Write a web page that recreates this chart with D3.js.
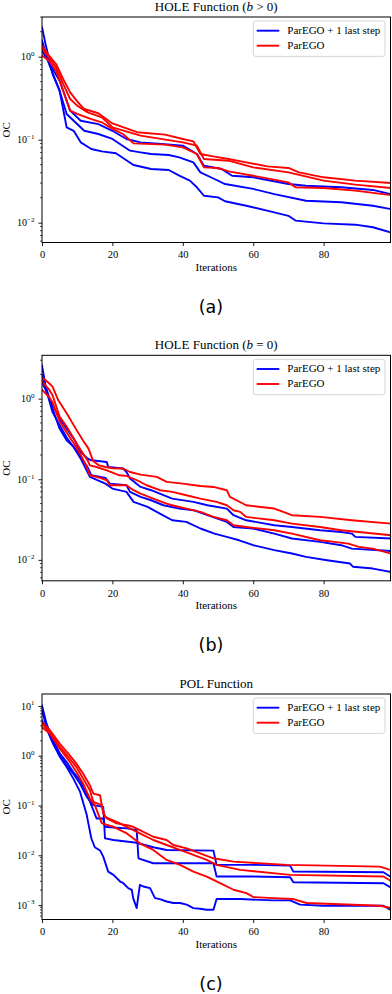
<!DOCTYPE html>
<html><head><meta charset="utf-8">
<script src="https://cdn.jsdelivr.net/npm/d3@7"></script>
<style>
html,body{margin:0;padding:0;background:#fff;}
svg{display:block;}
</style></head><body>
<svg id="chart" width="392" height="994"></svg>
<script>
// ---------- data (iteration, OC value) ----------
const aBlue1 = [[0,2.26],[1,1.42],[3,0.618],[5,0.389],[7,0.141],[9,0.128],[11,0.0929],[14,0.0772],[17,0.0723],[21,0.0686],[26,0.0496],[31,0.0443],[36,0.0431],[39,0.0368],[42,0.0321],[44,0.0267],[46,0.0211],[50,0.0202],[52,0.0181],[58,0.0160],[66,0.0133],[70,0.0121],[72,0.0106],[80,0.0098],[89,0.00946],[94,0.0088],[99,0.00765]];
const aBlue2 = [[0,1.56],[2,0.816],[5,0.389],[7,0.204],[9,0.169],[12,0.128],[16,0.117],[20,0.102],[25,0.0737],[28,0.0704],[31,0.0672],[36,0.0653],[39,0.0612],[43,0.0533],[45,0.0404],[49,0.0336],[52,0.0292],[60,0.0255],[66,0.0221],[75,0.0184],[85,0.0176],[94,0.016],[99,0.0146]];
const aBlue3 = [[0,1.18],[5,0.514],[8,0.224],[11,0.169],[16,0.154],[20,0.128],[24,0.102],[28,0.0929],[34,0.0887],[40,0.0847],[44,0.0672],[46,0.0486],[51,0.0443],[54,0.0368],[60,0.0352],[70,0.0292],[75,0.0279],[85,0.0267],[94,0.0248],[99,0.0221]];
const aRed1 = [[0,1.36],[2,1.03],[4,0.816],[6,0.538],[8,0.372],[10,0.29],[12,0.234],[16,0.208],[20,0.157],[27,0.123],[35,0.115],[40,0.102],[43,0.0955],[45,0.0672],[49,0.0624],[53,0.0585],[58,0.0533],[64,0.0477],[70,0.0456],[73,0.0404],[80,0.0352],[89,0.0321],[99,0.0301]];
const aRed2 = [[0,1.24],[2,0.982],[4,0.744],[6,0.469],[8,0.309],[10,0.257],[13,0.213],[17,0.186],[20,0.141],[28,0.112],[40,0.0929],[44,0.0847],[46,0.0585],[53,0.0558],[60,0.0464],[70,0.0404],[80,0.0321],[89,0.0287],[99,0.0262]];
const aRed3 = [[0,1.03],[2,0.895],[4,0.678],[6,0.389],[8,0.224],[10,0.204],[14,0.177],[17,0.162],[20,0.135],[23,0.117],[26,0.0903],[35,0.0871],[40,0.0809],[44,0.0672],[46,0.0464],[50,0.0456],[53,0.0415],[60,0.0368],[70,0.0306],[72,0.0267],[80,0.0262],[89,0.0243],[99,0.0215]];

const bBlue1 = [[0,2.59],[1,1.46],[3,0.75],[5,0.425],[7,0.304],[9,0.252],[11,0.18],[13.6,0.107],[18,0.0883],[20,0.0766],[24,0.0697],[26,0.0524],[30,0.0454],[33.5,0.0375],[37,0.031],[41,0.0296],[45,0.0245],[49,0.0212],[52.5,0.0193],[56,0.0175],[60,0.0152],[66,0.0132],[71,0.012],[75,0.0109],[81,0.0099],[87.5,0.009],[88.4,0.0082],[94,0.0078],[99,0.0071]];
const bBlue2 = [[0,1.95],[3,0.68],[5,0.47],[7,0.33],[9,0.25],[11,0.19],[13,0.14],[14,0.112],[18,0.104],[19.3,0.0883],[24,0.0843],[25,0.0697],[28,0.0604],[31,0.0549],[34.5,0.0476],[39,0.0433],[43,0.0413],[47,0.0358],[52.5,0.0296],[54.4,0.0256],[60,0.0245],[66,0.0212],[71,0.0184],[79,0.0167],[85,0.0152],[88,0.0138],[99,0.0129]];
const bBlue3 = [[0,1.61],[3,0.83],[5,0.565],[7,0.425],[9,0.319],[11,0.218],[13,0.18],[14,0.172],[18.4,0.164],[18.8,0.142],[23,0.136],[24,0.123],[25,0.102],[28,0.0803],[31,0.0731],[34.5,0.0634],[37,0.0576],[43,0.0524],[47,0.0476],[52.5,0.0433],[54.4,0.0358],[58,0.031],[66,0.0269],[71,0.0256],[79,0.0233],[85,0.0222],[88,0.0212],[89,0.0193],[99,0.0184]];
const bRed1 = [[0,1.8],[1,1.7],[2,1.55],[3,1.41],[4.6,0.96],[7,0.66],[9.8,0.41],[11.7,0.3],[13.2,0.24],[14.5,0.17],[16,0.15],[18,0.142],[20,0.137],[23,0.136],[25,0.123],[28,0.114],[32.6,0.107],[35.4,0.0927],[40,0.0883],[45,0.0826],[48.7,0.0803],[52.5,0.0731],[53.4,0.0604],[58,0.0476],[66,0.0433],[71,0.0358],[79,0.0341],[88,0.031],[99,0.0282]];
const bRed2 = [[0,1.62],[2,1.3],[3,1.1],[5,0.6],[7,0.45],[9,0.32],[11,0.23],[13,0.17],[13.6,0.149],[15.5,0.142],[18.4,0.129],[22,0.112],[24,0.11],[27,0.0972],[29.7,0.0843],[33.5,0.0731],[37,0.0697],[41,0.0634],[45,0.0576],[49.6,0.0524],[52.5,0.0476],[54.4,0.0413],[56.3,0.0394],[58,0.0341],[66,0.031],[71,0.0282],[79,0.0256],[85,0.0233],[90,0.0222],[99,0.0202]];
const bRed3 = [[0,1.28],[2,1.05],[3,0.9],[5,0.52],[7,0.38],[9,0.28],[11,0.2],[12.5,0.15],[13.6,0.112],[16.5,0.104],[18.4,0.0972],[19.3,0.0843],[24,0.0843],[26,0.0731],[28,0.0664],[31.6,0.0576],[35.4,0.0499],[37,0.0476],[41,0.0433],[45,0.0394],[48.7,0.0341],[52.5,0.031],[54.4,0.0269],[58,0.0256],[66,0.0233],[71,0.0212],[79,0.0175],[83,0.0167],[87,0.0159],[90,0.0145],[94,0.0138],[99,0.012]];

const cBlue1 = [[0,8.07],[1.3,3.74],[3.2,1.74],[5.1,0.94],[7,0.593],[8.9,0.347],[10.8,0.19],[12.7,0.065],[14,0.022],[15,0.0145],[16.5,0.0125],[17.4,0.0094],[18.8,0.0047],[20.3,0.00404],[22.2,0.00297],[23.1,0.00275],[24.5,0.00219],[25.5,0.00203],[25.9,0.00138],[26.9,0.00087],[27.8,0.00255],[28.8,0.00236],[30.7,0.00219],[32.1,0.00138],[33.5,0.00132],[35.4,0.00118],[37.3,0.0011],[39.2,0.0011],[41.1,0.00102],[43,0.00087],[44.9,0.000845],[46.8,0.000807],[48.7,0.000807],[49.6,0.00132],[56.3,0.00132],[65.7,0.00124],[70.5,0.00124],[73.3,0.00102],[79.9,0.00097],[97,0.00097],[98.9,0.000807]];
const cBlue2 = [[0,10.2],[1.3,4.37],[3.2,2.03],[5.1,1.1],[7,0.747],[8.9,0.471],[10.8,0.321],[12.7,0.174],[14.6,0.08],[15.5,0.055],[17.4,0.055],[17.9,0.0374],[20.3,0.0363],[24.1,0.0347],[26.9,0.0321],[27.4,0.0087],[31.6,0.00692],[48.7,0.00692],[49.6,0.00374],[60,0.00374],[70.5,0.00363],[71.4,0.00288],[97,0.00275],[98.9,0.00229]];
const cBlue3 = [[0,5.09],[1.3,3.47],[3.2,1.74],[5.1,1.016],[7,0.641],[8.9,0.436],[10.8,0.275],[12.7,0.149],[14.6,0.1016],[17.4,0.094],[17.9,0.0219],[20.3,0.0203],[26.9,0.0179],[31.6,0.0145],[35.4,0.0128],[48.7,0.0124],[49.6,0.00641],[60,0.00641],[70.5,0.00621],[71.4,0.00471],[97,0.00457],[98.9,0.00374]];
const cRed1 = [[0,4.71],[2.3,3.21],[5.1,1.74],[7.9,1.016],[9.8,0.692],[11.7,0.436],[13.6,0.255],[14.6,0.174],[16.5,0.161],[17.4,0.0692],[18.4,0.055],[21.2,0.0437],[24.1,0.0404],[25.9,0.0374],[27.8,0.0321],[31.6,0.0236],[35.4,0.0203],[37.3,0.0161],[41.1,0.0138],[48.7,0.0087],[54.4,0.00747],[69.5,0.00641],[96,0.00593],[98.9,0.00509]];
const cRed2 = [[0,4.37],[2.3,2.97],[5.1,1.49],[7.9,0.871],[9.8,0.593],[11.7,0.347],[13.6,0.203],[14.6,0.118],[17,0.1016],[17.9,0.0593],[21.2,0.0471],[24.1,0.0374],[27.8,0.0275],[31.6,0.0203],[35.4,0.0161],[39.2,0.0128],[43,0.0102],[46.8,0.00807],[49.6,0.00641],[56.3,0.00509],[70.5,0.00404],[97,0.00374],[98.9,0.00311]];
const cRed3 = [[0,3.74],[2.3,2.75],[5.1,1.38],[7.9,0.747],[9.8,0.471],[11.7,0.275],[13.6,0.138],[15,0.1016],[17,0.0437],[20.3,0.0374],[24.1,0.0275],[27.8,0.0174],[31.6,0.0128],[35.4,0.00807],[39.2,0.00641],[43,0.00471],[46.8,0.00374],[50.6,0.00275],[54.4,0.00203],[58.1,0.00174],[60,0.00145],[65.7,0.00138],[71.4,0.00132],[75.2,0.0011],[96,0.00097],[98.9,0.00088]];

const xTickValues = [0, 20, 40, 60, 80];
const yTicksA = [1, 0.1, 0.01];
const yTicksB = [1, 0.1, 0.01];
const yTicksC = [10, 1, 0.1, 0.01, 0.001];
const yDomainA = [0.00577, 3.006];
const yDomainB = [0.0055, 3.45];
const yDomainC = [0.000513, 17.4];
const titleNames = ["HOLE Function", "HOLE Function", "POL Function"];
const titleMath = [["b", " > 0"], ["b", " = 0"], null];
const legendLabels = ["ParEGO + 1 last step", "ParEGO"];
const seriesColors = ["#0000ff", "#ff0000"];
const panelLetters = ["(a)", "(b)", "(c)"];
const xLabel = "Iterations";
const yLabel = "OC";

const panels = [
  {yDomain: yDomainA, yTicks: yTicksA, blue: [aBlue1, aBlue2, aBlue3], red: [aRed1, aRed2, aRed3]},
  {yDomain: yDomainB, yTicks: yTicksB, blue: [bBlue1, bBlue2, bBlue3], red: [bRed1, bRed2, bRed3]},
  {yDomain: yDomainC, yTicks: yTicksC, blue: [cBlue1, cBlue2, cBlue3], red: [cRed1, cRed2, cRed3]}
];

// ---------- layout ----------
const SERIF = "'Liberation Serif','DejaVu Serif',serif";
const SANS = "'DejaVu Sans','Open Sans',sans-serif";
const left = 42, right = 390.5, plotH = 225.5;
const tops = [17, 355.3, 694];

const svg = d3.select("#chart");
const defs = svg.append("defs");

panels.forEach((p, i) => {
  const g = svg.append("g").attr("transform", `translate(0,${tops[i]})`);
  const x = d3.scaleLinear().domain([0, 99]).range([left, right]);
  const y = d3.scaleLog().domain(p.yDomain).range([plotH, 0]);

  defs.append("clipPath").attr("id", "clip" + i)
    .append("rect").attr("x", left).attr("y", 0).attr("width", right - left).attr("height", plotH);

  const line = d3.line().x(d => x(d[0])).y(d => y(d[1]));
  const lg = g.append("g").attr("clip-path", `url(#clip${i})`);
  [[p.blue, seriesColors[0]], [p.red, seriesColors[1]]].forEach(([list, col]) => {
    lg.selectAll(null).data(list).enter().append("path")
      .attr("d", line).attr("fill", "none").attr("stroke", col)
      .attr("stroke-width", 1.9).attr("stroke-linejoin", "round").attr("stroke-linecap", "square");
  });

  // frame
  g.append("rect").attr("x", left).attr("y", 0).attr("width", right - left).attr("height", plotH)
    .attr("fill", "none").attr("stroke", "#000").attr("stroke-width", 1);

  // x axis
  const gx = g.append("g").attr("transform", `translate(0,${plotH})`)
    .call(d3.axisBottom(x).tickValues(xTickValues).tickSize(3.5).tickPadding(5).tickFormat(d3.format("d")));
  gx.select(".domain").remove();
  gx.selectAll("line").attr("stroke", "#000").attr("stroke-width", 0.9);
  gx.selectAll("text").attr("font-family", SERIF).attr("font-size", 10.5).attr("fill", "#000");

  // y axis: major + minor ticks
  const gy = g.append("g").attr("transform", `translate(${left},0)`)
    .call(d3.axisLeft(y).tickValues(p.yTicks).tickSize(3.5).tickFormat(""));
  gy.select(".domain").remove();
  gy.selectAll("line").attr("stroke", "#000").attr("stroke-width", 0.9);
  const minors = y.ticks().filter(v => Math.abs(Math.log10(v) - Math.round(Math.log10(v))) > 1e-6);
  gy.selectAll(".minor").data(minors).enter().append("line").attr("class", "minor")
    .attr("x1", -2).attr("x2", 0).attr("y1", d => y(d)).attr("y2", d => y(d))
    .attr("stroke", "#000").attr("stroke-width", 0.7);
  // y tick labels 10^k
  p.yTicks.forEach(v => {
    const e = Math.round(Math.log10(v));
    const t = g.append("text").attr("x", left - 7.5).attr("y", y(v) + 3.6)
      .attr("text-anchor", "end").attr("font-family", SERIF).attr("font-size", 10).attr("fill", "#000");
    t.append("tspan").text("10");
    t.append("tspan").attr("dy", -4.3).attr("font-size", 7).text(e < 0 ? "\u2212" + (-e) : String(e));
  });

  // title
  const tt = g.append("text").attr("x", (left + right) / 2).attr("y", -6)
    .attr("text-anchor", "middle").attr("font-family", SERIF).attr("font-size", 13).attr("fill", "#000");
  tt.append("tspan").text(titleNames[i]);
  if (titleMath[i]) {
    tt.append("tspan").text(" (");
    tt.append("tspan").attr("font-style", "italic").text(titleMath[i][0]);
    tt.append("tspan").text(titleMath[i][1] + ")");
  }

  // axis labels
  g.append("text").attr("x", (left + right) / 2).attr("y", plotH + 28.5)
    .attr("text-anchor", "middle").attr("font-family", SERIF).attr("font-size", 11).attr("fill", "#000").text(xLabel);
  g.append("text").attr("transform", `translate(10,${plotH / 2}) rotate(-90)`)
    .attr("text-anchor", "middle").attr("font-family", SERIF).attr("font-size", 11).attr("fill", "#000").text(yLabel);

  // legend
  const lgX = 253.3, lgY = 4, lgW = 131.7, lgH = 35.4;
  const leg = g.append("g");
  leg.append("rect").attr("x", lgX).attr("y", lgY).attr("width", lgW).attr("height", lgH)
    .attr("rx", 2.5).attr("fill", "#fff").attr("fill-opacity", 0.8).attr("stroke", "#d0d0d0").attr("stroke-width", 0.9);
  legendLabels.forEach((lab, k) => {
    const yy = lgY + 9.7 + k * 15;
    leg.append("line").attr("x1", 256.7).attr("x2", 279.3).attr("y1", yy).attr("y2", yy)
      .attr("stroke", seriesColors[k]).attr("stroke-width", 1.9);
    leg.append("text").attr("x", 287.3).attr("y", yy + 3.5).attr("font-family", SERIF)
      .attr("font-size", 11).attr("fill", "#000").text(lab);
  });

  // panel letter
  g.append("text").attr("x", 211).attr("y", plotH + 70).attr("text-anchor", "middle")
    .attr("font-family", SANS).attr("font-size", 17.5).attr("fill", "#000").text(panelLetters[i]);
});
</script>
</body></html>
